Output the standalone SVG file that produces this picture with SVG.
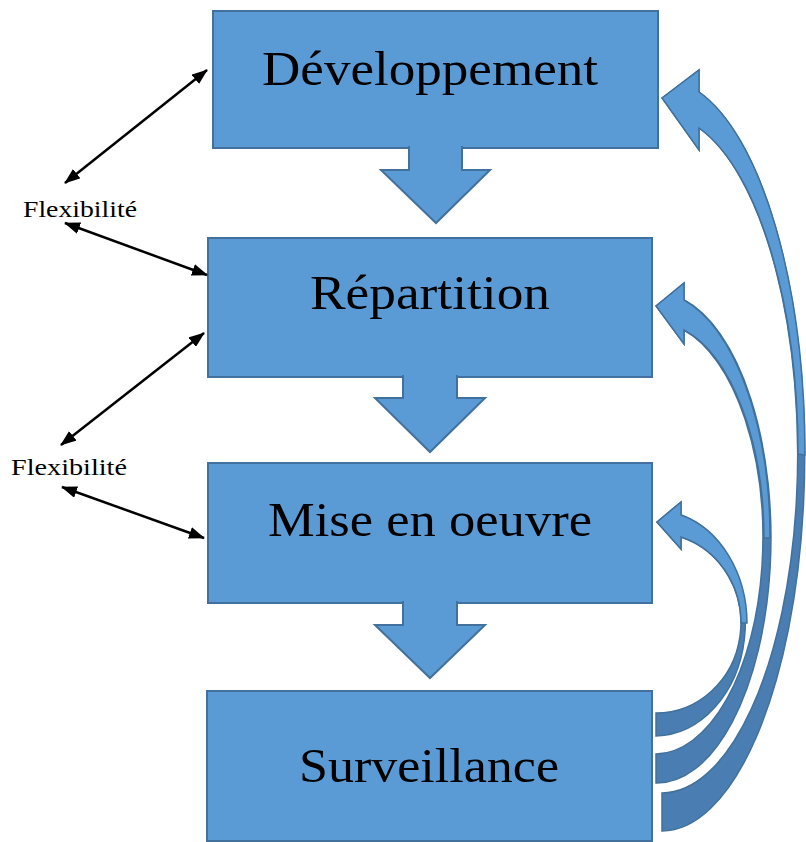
<svg xmlns="http://www.w3.org/2000/svg" width="806" height="842" viewBox="0 0 806 842">
<defs>
<style>
.box{fill:#5b9bd5;stroke:#41719c;stroke-width:2}
.down{fill:#5b9bd5;stroke:#41719c;stroke-width:2;stroke-linejoin:miter}
.back{fill:#4a7db1;stroke:#41719c;stroke-width:1.5;stroke-linejoin:miter}
.front{fill:#5b9bd5;stroke:#41719c;stroke-width:1.5;stroke-linejoin:miter}
.big{font-family:"Liberation Serif","DejaVu Serif",serif;font-size:48px;fill:#000;text-anchor:middle}
.small{font-family:"Liberation Serif","DejaVu Serif",serif;font-size:23px;fill:#000}
.dbl{stroke:#000;stroke-width:2.5;fill:none;marker-start:url(#ah);marker-end:url(#ah)}
</style>
<marker id="ah" viewBox="0 0 16 12" refX="15" refY="6" markerWidth="16" markerHeight="12" markerUnits="userSpaceOnUse" orient="auto-start-reverse">
<path d="M0,0 L16,6 L0,12 Z" fill="#000"/>
</marker>
</defs>
<rect width="806" height="842" fill="#fff"/>

<g id="node-developpement">
<rect class="box" x="213" y="11" width="445" height="137"/>
<text class="big" x="430" y="85" textLength="336" lengthAdjust="spacingAndGlyphs">Développement</text>
</g>
<g id="node-repartition">
<rect class="box" x="208" y="238" width="444" height="139"/>
<text class="big" x="430" y="309" textLength="240" lengthAdjust="spacingAndGlyphs">Répartition</text>
</g>
<g id="node-mise">
<rect class="box" x="208" y="463" width="444" height="140"/>
<text class="big" x="430" y="536" textLength="324" lengthAdjust="spacingAndGlyphs">Mise en oeuvre</text>
</g>
<g id="node-surveillance">
<rect class="box" x="207" y="691" width="445" height="150"/>
<text class="big" x="429" y="782" textLength="260" lengthAdjust="spacingAndGlyphs">Surveillance</text>
</g>

<g id="label-flex1"><text class="small" x="23" y="217" textLength="114" lengthAdjust="spacingAndGlyphs">Flexibilité</text></g>
<g id="label-flex2"><text class="small" x="11" y="475" textLength="116" lengthAdjust="spacingAndGlyphs">Flexibilité</text></g>

<g id="connectors">
<path class="down" d="M409,146 L409,170 L381,170 L436,223 L490,170 L462,170 L462,146"/>
<path class="down" d="M403,375 L403,398 L375,398 L430,452 L485,398 L457,398 L457,375"/>
<path class="down" d="M403,601 L403,625 L375,625 L430,678 L485,625 L457,625 L457,601"/>

<g id="loop-to-developpement">
<path class="back" d="M662,98 L699,70 L699,92 A143 376 0 0 1 662,831 L662,793 A136 339 0 0 0 699,128 L699,150 Z"/>
<path class="front" d="M662,98 L699,70 L699,92 A143 376 0 0 1 805,455 L798,454 A136 339 0 0 0 699,128 L699,150 Z"/>
</g>
<g id="loop-to-repartition">
<path class="back" d="M656,306 L684,283 L684,300 A114 245 0 0 1 656,783 L656,754 A108 216 0 0 0 684,330 L684,344 Z"/>
<path class="front" d="M656,306 L684,283 L684,300 A114 245 0 0 1 770,538 L764,538 A108 216 0 0 0 684,330 L684,344 Z"/>
</g>
<g id="loop-to-mise">
<path class="back" d="M657,522 L681,502 L681,515 A91 113 0 0 1 656,736 L656,713 A85 90 0 0 0 681,537 L681,549 Z"/>
<path class="front" d="M657,522 L681,502 L681,515 A91 113 0 0 1 747,623 L741,623 A85 90 0 0 0 681,537 L681,549 Z"/>
</g>

<line class="dbl" x1="65" y1="183" x2="207" y2="70"/>
<line class="dbl" x1="65" y1="223" x2="207" y2="275"/>
<line class="dbl" x1="61" y1="445" x2="204" y2="333"/>
<line class="dbl" x1="62" y1="487" x2="204" y2="538"/>
</g>
</svg>
